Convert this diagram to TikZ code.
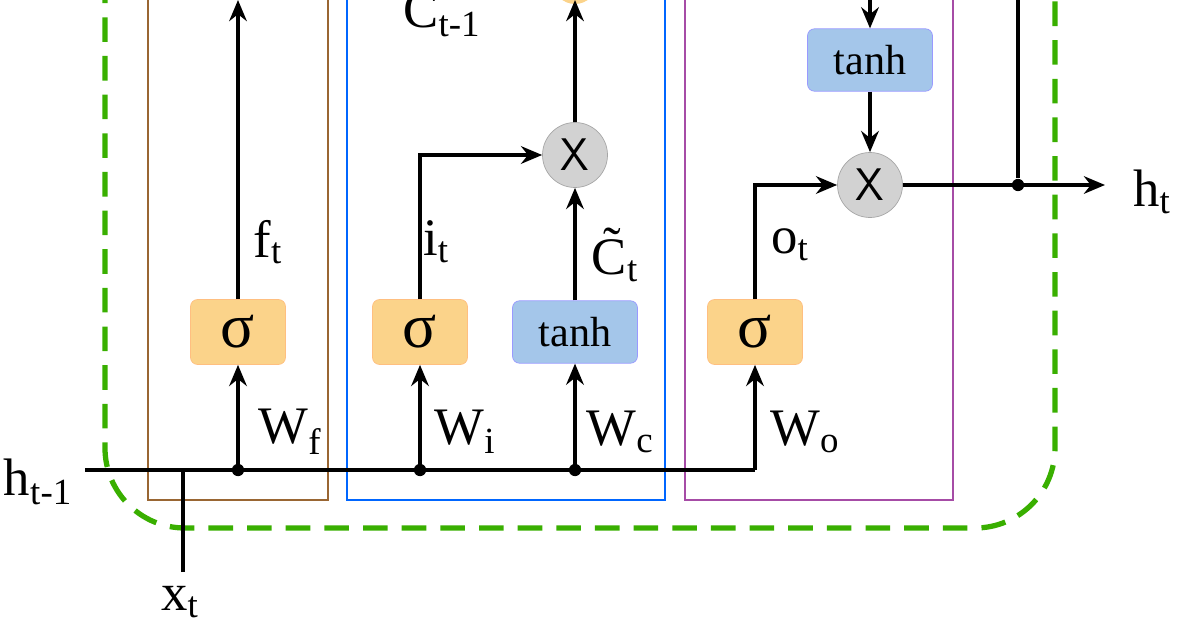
\documentclass[tikz,border=0pt]{standalone}
\usepackage{fontspec}
\setmainfont{Liberation Serif}
\usetikzlibrary{arrows.meta}
\definecolor{sigfill}{HTML}{FBD38A}
\definecolor{thfill}{HTML}{A4C6EA}
\tikzset{
  sig/.style={draw=orange!50, fill=sigfill, rounded corners=4pt, minimum width=1.9cm, minimum height=1.3cm, font=\fontsize{36}{36}\selectfont},
  th/.style={draw=blue!40, fill=thfill, rounded corners=4pt, minimum width=2.5cm, minimum height=1.25cm, font=\fontsize{24}{24}\selectfont},
  mul/.style={circle, draw=gray!70, fill=gray!35, minimum size=1.3cm, inner sep=0pt, font=\sffamily\fontsize{26}{26}\selectfont},
  dot/.style={circle, fill=black, inner sep=0pt, minimum size=7pt},
  lbl/.style={font=\fontsize{30}{30}\selectfont},
  ln/.style={line width=2.4pt},
  arr/.style={line width=2.4pt, -{Stealth[length=12pt,width=10pt]}}
}
\newcommand{\sub}[2]{#1\textsubscript{#2}}
\begin{document}
\begin{tikzpicture}[x=0.02cm,y=-0.02cm]
\useasboundingbox (0,0) rectangle (1200,628);
% cell border and gate frames
\draw[green!55!black!70!lime, dashed, line width=3pt, dash pattern=on 14pt off 8pt, rounded corners=1.6cm] (105,-60) -- (105,528) -- (1055,528) -- (1055,-60);
\draw[brown!80!black, line width=1.5pt] (148,-5) -- (148,500) -- (328,500) -- (328,-5);
\draw[blue!60!cyan, line width=1.5pt] (347,-5) -- (347,500) -- (665,500) -- (665,-5);
\draw[violet!70, line width=1.5pt] (685,-5) -- (685,500) -- (953,500) -- (953,-5);
% gates
\node[sig] (sf) at (238,332) {σ};
\node[sig] (si) at (420,332) {σ};
\node[th] (tc) at (575,332) {tanh};
\node[sig] (so) at (755,332) {σ};
\node[mul] (mi) at (575,155) {X};
\node[mul] (mo) at (870,185) {X};
\node[th] (th) at (870,60) {tanh};
\fill[sigfill] (575,-18) circle (22);
% junctions
\coordinate (hin) at (85,470);
\node[dot] (jf) at (238,470) {};
\node[dot] (ji) at (420,470) {};
\node[dot] (jc) at (575,470) {};
\coordinate (jo) at (755,470);
\node[dot] (jh) at (1018,185) {};
\coordinate (hout) at (1105,185);
\coordinate (xin) at (183,572);
\coordinate (xj) at (183,470);
% connectors
\draw[ln] (hin) -- (jo);
\draw[ln] (xin) -- (xj);
\draw[arr] (jf) -- (sf);
\draw[arr] (ji) -- (si);
\draw[arr] (jc) -- (tc);
\draw[arr] (jo) -- (so);
\draw[arr] (sf) -- (238,0);
\draw[arr] (si) |- (mi);
\draw[arr] (tc) -- (mi);
\draw[arr] (mi) -- (575,0);
\draw[arr] (so) |- (mo);
\draw[arr] (870,-5) -- (th);
\draw[arr] (th) -- (mo);
\draw[arr] (mo) -- (hout);
\draw[ln] (jh) -- (1018,-5);
% labels
\node[lbl] at (38,482) {\sub{h}{t-1}};
\node[lbl] at (180,602) {\sub{x}{t}};
\node[lbl] at (1152,192) {\sub{h}{t}};
\node[lbl] at (290,432) {\sub{W}{f}};
\node[lbl] at (465,432) {\sub{W}{i}};
\node[lbl] at (620,432) {\sub{W}{c}};
\node[lbl] at (805,432) {\sub{W}{o}};
\node[lbl] at (268,242) {\sub{f}{t}};
\node[lbl] at (436,242) {\sub{i}{t}};
\node[lbl] at (615,255) {\sub{C̃}{t}};
\node[lbl] at (790,245) {\sub{o}{t}};
\node[lbl] at (442,15) {\sub{C}{t-1}};
\end{tikzpicture}
\end{document}
